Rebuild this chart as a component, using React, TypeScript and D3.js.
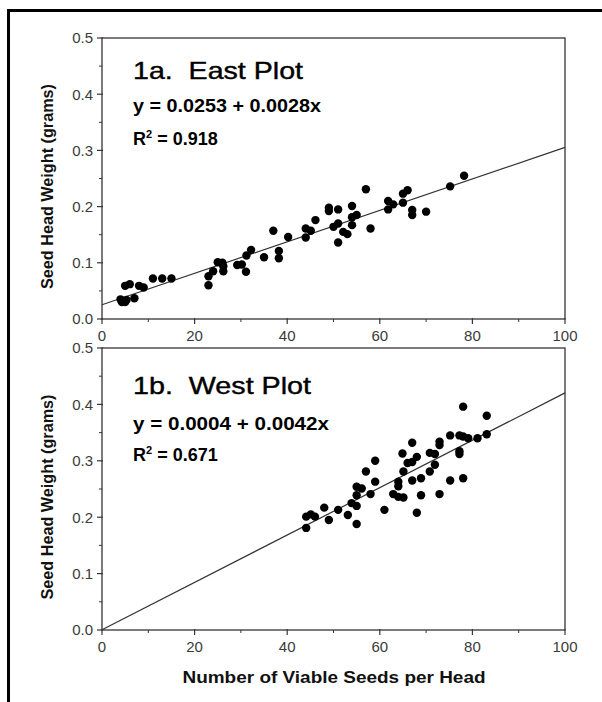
import React from "react"
import * as d3 from "d3"

// East plot (1a)
const eastSeeds = [4, 4.3, 5, 5.3, 5, 6, 7, 8, 9, 11, 13, 15, 23, 23, 24, 25, 26, 26.2, 26.2, 29.2, 30.2, 31.1, 31.2, 32.2, 35, 37, 38.2, 38.2, 40.2, 44, 44, 45.1, 46.1, 49, 49, 51, 50, 51, 51, 52.1, 53, 54, 54, 54, 55, 57, 58, 61.8, 61.8, 62.9, 65, 65, 66, 67, 67, 70, 75.2, 78.2]
const eastWeight = [0.035, 0.03, 0.03, 0.034, 0.059, 0.062, 0.037, 0.059, 0.056, 0.072, 0.072, 0.072, 0.076, 0.06, 0.085, 0.101, 0.1, 0.094, 0.085, 0.096, 0.097, 0.084, 0.113, 0.123, 0.11, 0.157, 0.121, 0.108, 0.146, 0.161, 0.145, 0.157, 0.176, 0.198, 0.192, 0.195, 0.164, 0.17, 0.136, 0.155, 0.151, 0.201, 0.181, 0.167, 0.185, 0.231, 0.161, 0.21, 0.195, 0.204, 0.223, 0.207, 0.229, 0.194, 0.185, 0.191, 0.236, 0.255]

// West plot (1b)
const westSeeds = [44.1, 44.1, 45.1, 46, 48, 49, 51, 53.1, 53.9, 55, 55, 55, 55, 56.1, 57, 58, 59, 59, 61, 62.9, 64, 64, 64, 65.1, 65.1, 64.9, 66, 67, 67, 67, 68, 68, 68.9, 68.9, 70.8, 70.8, 71.9, 71.9, 72.9, 72.9, 72.9, 75.2, 75.2, 77.2, 77.2, 77.2, 78, 78, 78, 79.1, 81.1, 83.1, 83.1]
const westWeight = [0.181, 0.201, 0.205, 0.201, 0.217, 0.195, 0.213, 0.204, 0.225, 0.22, 0.188, 0.239, 0.254, 0.251, 0.281, 0.241, 0.263, 0.3, 0.213, 0.241, 0.263, 0.255, 0.236, 0.235, 0.281, 0.313, 0.296, 0.298, 0.332, 0.265, 0.307, 0.208, 0.269, 0.239, 0.314, 0.281, 0.312, 0.293, 0.334, 0.328, 0.241, 0.345, 0.265, 0.345, 0.317, 0.312, 0.396, 0.343, 0.269, 0.34, 0.34, 0.38, 0.347]

const panelTitles = ["1a.  East Plot", "1b.  West Plot"]
const equations = ["y = 0.0253 + 0.0028x", "y = 0.0004 + 0.0042x"]
const rSquared = ["0.918", "0.671"]
const intercepts = [0.0253, 0.0004]
const slopes = [0.0028, 0.0042]

const xTicks = [0, 20, 40, 60, 80, 100]
const xMinor = [10, 30, 50, 70, 90]
const yTicks = [0, 0.1, 0.2, 0.3, 0.4, 0.5]
const yMinor = [0.05, 0.15, 0.25, 0.35, 0.45]

const axisColor = "#3a3333"
const labelColor = "#3a3a3a"
const font = "'Liberation Sans', Arial, Helvetica, sans-serif"

const x = d3.scaleLinear().domain([0, 100]).range([102, 565])

function Panel({ idx, top, bottom, xs, ys, textY }) {
  const y = d3.scaleLinear().domain([0, 0.5]).range([bottom, top])
  const line = d3.line<number>()
    .x(d => x(d))
    .y(d => y(intercepts[idx] + slopes[idx] * d))
  return (
    <g>
      <rect x={x(0)} y={top} width={x(100) - x(0)} height={bottom - top}
        fill="none" stroke={axisColor} strokeWidth={1.3} />
      {yTicks.map(t => (
        <g key={"y" + t}>
          <line x1={x(0) - 5} x2={x(0) + 1} y1={y(t)} y2={y(t)} stroke={axisColor} strokeWidth={1.2} />
          <text x={x(0) - 9} y={y(t)} dy="0.36em" textAnchor="end" fontSize={15}
            fill={labelColor} fontFamily={font}>{t.toFixed(1)}</text>
        </g>
      ))}
      {yMinor.map(t => (
        <line key={"ym" + t} x1={x(0) - 3} x2={x(0)} y1={y(t)} y2={y(t)} stroke={axisColor} strokeWidth={1} />
      ))}
      {xTicks.map(t => (
        <g key={"x" + t}>
          <line x1={x(t)} x2={x(t)} y1={bottom - 1} y2={bottom + 5} stroke={axisColor} strokeWidth={1.2} />
          <text x={x(t)} y={bottom + 22} textAnchor="middle" fontSize={15}
            fill={labelColor} fontFamily={font}>{t}</text>
        </g>
      ))}
      {xMinor.map(t => (
        <line key={"xm" + t} x1={x(t)} x2={x(t)} y1={bottom} y2={bottom + 3} stroke={axisColor} strokeWidth={1} />
      ))}
      <path d={line([0, 100]) || ""} stroke="#333" strokeWidth={1.2} fill="none" />
      {xs.map((v, i) => (
        <circle key={i} cx={x(v)} cy={y(ys[i])} r={4.2} fill="#000" />
      ))}
      <text x={133} y={textY[0]} fontSize={24} fontFamily={font} fill="#000" stroke="#000" strokeWidth={0.4}
        style={{ whiteSpace: "pre" }} textLength={idx === 0 ? 170 : 178} lengthAdjust="spacingAndGlyphs">
        {panelTitles[idx]}
      </text>
      <text x={133} y={textY[1]} fontSize={18} fontWeight="bold" fontFamily={font} fill="#000"
        textLength={idx === 0 ? 188 : 196} lengthAdjust="spacingAndGlyphs">
        {equations[idx]}
      </text>
      <text x={133} y={textY[2]} fontSize={18} fontWeight="bold" fontFamily={font} fill="#000">
        R<tspan fontSize={11} dy={-7}>2</tspan><tspan dy={7}>{" = " + rSquared[idx]}</tspan>
      </text>
      <text transform={`translate(47,${(top + bottom) / 2 + 8}) rotate(-90)`} textAnchor="middle"
        dominantBaseline="central" fontSize={16} fontWeight="bold" fontFamily={font} fill="#111"
        textLength={205} lengthAdjust="spacingAndGlyphs">
        Seed Head Weight (grams)
      </text>
    </g>
  )
}

export default function App() {
  return (
    <svg width={602} height={702} style={{ position: "absolute", left: 0, top: 0, background: "#fff" }}>
      <rect x={0} y={0} width={602} height={702} fill="#fff" />
      <path d="M8.5,702 L8.5,10.5 L602,10.5" fill="none" stroke="#000" strokeWidth={3} />
      <Panel idx={0} top={38} bottom={319} xs={eastSeeds} ys={eastWeight} textY={[79, 112, 145]} />
      <Panel idx={1} top={348} bottom={630} xs={westSeeds} ys={westWeight} textY={[394, 430, 461]} />
      <text x={334} y={683} textAnchor="middle" fontSize={17} fontWeight="bold" fontFamily={font}
        fill="#111" textLength={303} lengthAdjust="spacingAndGlyphs">
        Number of Viable Seeds per Head
      </text>
    </svg>
  )
}
